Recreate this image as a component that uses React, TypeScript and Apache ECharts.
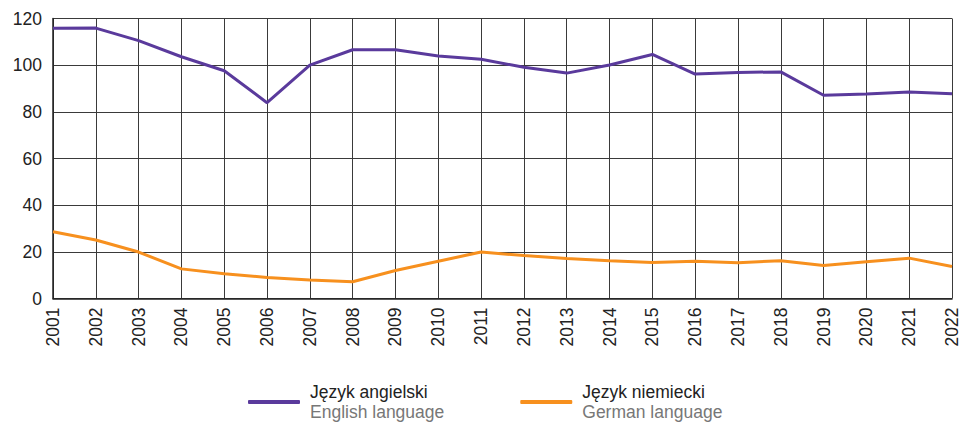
import React, { useEffect, useRef } from "react";
import * as echarts from "echarts";

const years = ["2001","2002","2003","2004","2005","2006","2007","2008","2009","2010","2011","2012","2013","2014","2015","2016","2017","2018","2019","2020","2021","2022"];
const english = [115.8,115.9,110.5,103.6,97.6,83.9,100.0,106.6,106.6,103.9,102.5,99.1,96.6,100.1,104.6,96.2,96.9,97.1,87.1,87.6,88.5,87.8];
const german = [28.6,25.1,19.9,12.7,10.6,9.0,7.9,7.2,12.0,16.0,19.9,18.4,17.1,16.2,15.4,16.0,15.3,16.2,14.1,15.7,17.3,13.7];
const seriesNames = ["Język angielski", "Język niemiecki"];
const seriesNamesEn = ["English language", "German language"];
const colors = ["#5a3a9c", "#f7901e"];

export default function App() {
  const ref = useRef<HTMLDivElement>(null);
  useEffect(() => {
    if (!ref.current) return;
    const chart = echarts.init(ref.current, null, { renderer: "svg" });
    const font = "'Liberation Sans', Arial, sans-serif";
    chart.setOption({
      animation: false,
      textStyle: { fontFamily: font },
      grid: { left: 53, right: 6.5, top: 18.5, bottom: 123.5, containLabel: false },
      xAxis: {
        type: "category",
        data: years,
        boundaryGap: false,
        axisLine: { show: true, lineStyle: { color: "#222", width: 1.5 } },
        axisTick: { show: false },
        splitLine: { show: true, lineStyle: { color: "#3a3a3a", width: 1 } },
        axisLabel: { rotate: 90, fontSize: 17.5, color: "#222", margin: 9, interval: 0, fontFamily: font },
      },
      yAxis: {
        type: "value",
        min: 0,
        max: 120,
        interval: 20,
        axisLine: { show: true, lineStyle: { color: "#222", width: 1.5 } },
        axisTick: { show: false },
        splitLine: { show: true, lineStyle: { color: "#3a3a3a", width: 1 } },
        axisLabel: { fontSize: 17.5, color: "#222", margin: 11, fontFamily: font },
      },
      legend: {
        left: 248,
        top: 383,
        padding: 0,
        itemWidth: 52,
        itemHeight: 4,
        itemGap: 76,
        icon: "roundRect",
        data: seriesNames.map((n, i) => ({ name: n, itemStyle: { color: colors[i] } })),
        formatter: (name: string) => {
          const i = seriesNames.indexOf(name);
          return `{a|${name}}\n{b|${seriesNamesEn[i]}}`;
        },
        textStyle: {
          padding: [0, 0, 0, 5],
          rich: {
            a: { fontSize: 17.5, color: "#222", lineHeight: 20, fontFamily: font },
            b: { fontSize: 17.5, color: "#777", lineHeight: 20, fontFamily: font },
          },
        },
      },
      series: [
        { name: seriesNames[0], type: "line", data: english, symbol: "none", lineStyle: { color: colors[0], width: 3 }, itemStyle: { color: colors[0] } },
        { name: seriesNames[1], type: "line", data: german, symbol: "none", lineStyle: { color: colors[1], width: 3 }, itemStyle: { color: colors[1] } },
      ],
    });
    return () => chart.dispose();
  }, []);
  return <div ref={ref} style={{ position: "absolute", left: 0, top: 0, width: 961, height: 422 }} />;
}
